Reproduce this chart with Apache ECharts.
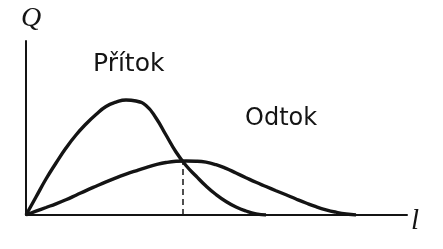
<!DOCTYPE html>
<html>
<head>
<meta charset="utf-8">
<script src="https://cdn.jsdelivr.net/npm/echarts@6/dist/echarts.min.js"></script>
<style>
html,body{margin:0;padding:0;background:#fff;}
#chart{width:443px;height:249px;}
</style>
</head>
<body>
<div id="chart"></div>
<script>
// (l along the x axis, Q up the y axis, arbitrary units)
var inflowL  = [0, 10, 20, 30, 40, 50, 60, 70, 80, 90, 100, 110, 120, 130, 140, 150, 160, 170, 180, 190, 200, 210, 220, 230, 240];
var inflowQ  = [0, 18, 36, 52, 67, 80, 91, 100.5, 108.5, 112.8, 115, 114, 109.5, 97, 80, 63, 49.5, 39, 29, 20.5, 13.5, 8, 4, 1.2, 0];
var outflowL = [0, 10, 20, 30, 40, 50, 60, 70, 80, 90, 100, 110, 120, 130, 140, 150, 160, 170, 180, 190, 200, 210, 220, 230, 240, 250, 260, 270, 280, 290, 300, 310, 320, 330];
var outflowQ = [0, 3.8, 7.5, 11.2, 15.3, 19.8, 24.4, 28.8, 33.1, 37.1, 40.8, 44.2, 47.4, 50.3, 52.5, 53.7, 54, 53.8, 52.8, 50.3, 46.6, 42, 37.3, 32.7, 28.5, 24.3, 20.2, 16, 12, 8.3, 5.2, 2.8, 1, 0];
var crossL = [157, 157];
var crossQ = [0, 54];
var labels = { inflow: 'Přítok', outflow: 'Odtok', yName: 'Q', xName: 'l' };

function pairs(xs, ys) { return xs.map(function (x, i) { return [x, ys[i]]; }); }

var chart = echarts.init(document.getElementById('chart'), null, { renderer: 'canvas' });
var ink = '#141414';
chart.setOption({
  animation: false,
  backgroundColor: '#ffffff',
  grid: { left: 26, right: 36, top: 41, bottom: 34 },
  xAxis: {
    type: 'value', min: 0, max: 381,
    axisLine: { show: true, onZero: false, lineStyle: { color: ink, width: 2 } },
    axisTick: { show: false }, axisLabel: { show: false }, splitLine: { show: false }
  },
  yAxis: {
    type: 'value', min: 0, max: 174,
    axisLine: { show: true, onZero: false, lineStyle: { color: ink, width: 2 } },
    axisTick: { show: false }, axisLabel: { show: false }, splitLine: { show: false }
  },
  series: [
    {
      type: 'line', name: labels.inflow, data: pairs(inflowL, inflowQ),
      smooth: 0.5, showSymbol: false, lineStyle: { color: ink, width: 3.4 }
    },
    {
      type: 'line', name: labels.outflow, data: pairs(outflowL, outflowQ),
      smooth: 0.5, showSymbol: false, lineStyle: { color: ink, width: 3.4 }
    },
    {
      type: 'line', data: pairs(crossL, crossQ), showSymbol: false,
      lineStyle: { color: ink, width: 1.5, type: [6, 4] }
    }
  ],
  graphic: [
    { type: 'text', x: 21, y: 19, style: { text: labels.yName, font: 'italic 28px "Liberation Serif"', fill: ink, verticalAlign: 'middle' } },
    { type: 'text', x: 411, y: 221, style: { text: labels.xName, font: 'italic 29px "Liberation Serif"', fill: ink, verticalAlign: 'middle' } },
    { type: 'text', x: 93, y: 64, style: { text: labels.inflow, font: '25px "DejaVu Sans"', fill: ink, verticalAlign: 'middle' } },
    { type: 'text', x: 245, y: 119, style: { text: labels.outflow, font: '24px "DejaVu Sans"', fill: ink, verticalAlign: 'middle' } }
  ]
});
</script>
</body>
</html>
